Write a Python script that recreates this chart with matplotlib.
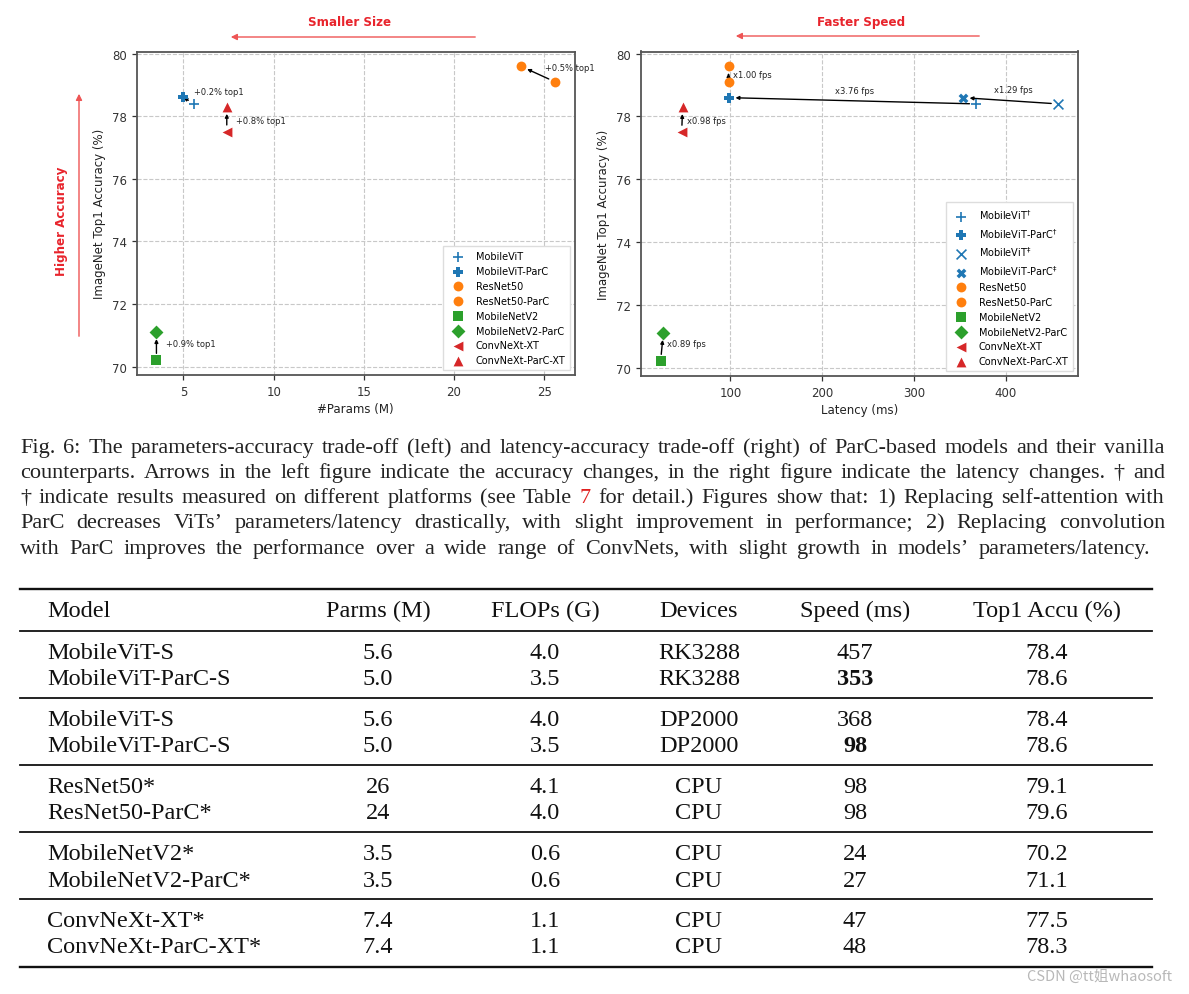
import matplotlib
matplotlib.use("Agg")
import matplotlib.pyplot as plt
from matplotlib.patches import FancyArrowPatch
from matplotlib.lines import Line2D

W, H = 1189, 995

# ---------------- data ----------------
left_names = ["MobileViT", "MobileViT-ParC", "ResNet50", "ResNet50-ParC",
              "MobileNetV2", "MobileNetV2-ParC", "ConvNeXt-XT", "ConvNeXt-ParC-XT"]
left_params = [5.6, 5.0, 25.6, 23.7, 3.5, 3.5, 7.4, 7.4]
left_acc = [78.4, 78.6, 79.1, 79.6, 70.2, 71.1, 77.5, 78.3]
left_markers = ["+", "P", "o", "o", "s", "D", "<", "^"]
left_colors = ["tab:blue", "tab:blue", "tab:orange", "tab:orange",
               "tab:green", "tab:green", "tab:red", "tab:red"]
left_pairs = [(0, 1), (2, 3), (4, 5), (6, 7)]
left_pair_labels = ["+0.2% top1", "+0.5% top1", "+0.9% top1", "+0.8% top1"]

right_names = ["MobileViT$^{\\dagger}$", "MobileViT-ParC$^{\\dagger}$",
               "MobileViT$^{\\ddagger}$", "MobileViT-ParC$^{\\ddagger}$",
               "ResNet50", "ResNet50-ParC", "MobileNetV2", "MobileNetV2-ParC",
               "ConvNeXt-XT", "ConvNeXt-ParC-XT"]
right_latency = [368, 98, 457, 353, 98, 98, 24, 27, 47, 48]
right_acc = [78.4, 78.6, 78.4, 78.6, 79.1, 79.6, 70.2, 71.1, 77.5, 78.3]
right_markers = ["+", "P", "x", "X", "o", "o", "s", "D", "<", "^"]
right_colors = ["tab:blue", "tab:blue", "tab:blue", "tab:blue", "tab:orange",
                "tab:orange", "tab:green", "tab:green", "tab:red", "tab:red"]
right_pairs = [(0, 1), (2, 3), (4, 5), (6, 7), (8, 9)]
right_pair_labels = ["x3.76 fps", "x1.29 fps", "x1.00 fps", "x0.89 fps", "x0.98 fps"]

caption_lines = [
    "Fig. 6: The parameters-accuracy trade-off (left) and latency-accuracy trade-off (right) of ParC-based models and their vanilla",
    "counterparts. Arrows in the left figure indicate the accuracy changes, in the right figure indicate the latency changes. \u2020 and",
    "\u2020 indicate results measured on different platforms (see Table 7 for detail.) Figures show that: 1) Replacing self-attention with",
    "ParC decreases ViTs\u2019 parameters/latency drastically, with slight improvement in performance; 2) Replacing convolution",
    "with ParC improves the performance over a wide range of ConvNets, with slight growth in models\u2019 parameters/latency.",
]

table_header = ["Model", "Parms (M)", "FLOPs (G)", "Devices", "Speed (ms)", "Top1 Accu (%)"]
tbl_models = ["MobileViT-S", "MobileViT-ParC-S", "MobileViT-S", "MobileViT-ParC-S",
              "ResNet50*", "ResNet50-ParC*", "MobileNetV2*", "MobileNetV2-ParC*",
              "ConvNeXt-XT*", "ConvNeXt-ParC-XT*"]
tbl_params = ["5.6", "5.0", "5.6", "5.0", "26", "24", "3.5", "3.5", "7.4", "7.4"]
tbl_flops = ["4.0", "3.5", "4.0", "3.5", "4.1", "4.0", "0.6", "0.6", "1.1", "1.1"]
tbl_devices = ["RK3288", "RK3288", "DP2000", "DP2000", "CPU", "CPU", "CPU", "CPU", "CPU", "CPU"]
tbl_speed = ["457", "353", "368", "98", "98", "98", "24", "27", "47", "48"]
tbl_top1 = ["78.4", "78.6", "78.4", "78.6", "79.1", "79.6", "70.2", "71.1", "77.5", "78.3"]
tbl_bold_speed = [False, True, False, True, False, False, False, False, False, False]

# ---------------- figure ----------------
fig = plt.figure(figsize=(W / 100, H / 100), dpi=100)
fig.patch.set_facecolor("white")


def fx(px):
    return px / W


def fy(py):
    return 1 - py / H


def style_axes(ax):
    ax.grid(True, linestyle="--", color="#c8c8c8", linewidth=0.8)
    ax.set_axisbelow(True)
    for s in ax.spines.values():
        s.set_linewidth(1.3)
        s.set_color("#555555")
    ax.tick_params(labelsize=8.5, colors="#333333", length=3.5, width=0.9)


def add_pairs(ax, xs, ys, pairs, labels, offsets, has):
    for (a, b), lab, (dx, dy), ha in zip(pairs, labels, offsets, has):
        ax.annotate("", xy=(xs[b], ys[b]), xytext=(xs[a], ys[a]),
                    arrowprops=dict(arrowstyle="-|>", color="black", lw=1.0,
                                    mutation_scale=5, shrinkA=5, shrinkB=5),
                    zorder=2)
        mx, my = (xs[a] + xs[b]) / 2, (ys[a] + ys[b]) / 2
        ax.annotate(lab, xy=(mx, my), xytext=(dx, dy), textcoords="offset pixels",
                    fontsize=6, color="#222222", ha=ha, va="center")


# left axes
axL = fig.add_axes([fx(136.5), fy(376), fx(575 - 136.5), (376 - 52.5) / H])
for x, y, m, c, n in zip(left_params, left_acc, left_markers, left_colors, left_names):
    axL.scatter([x], [y], marker=m, color=c, s=50, label=n, zorder=3,
                linewidths=1.2 if m in "+x" else 0)
style_axes(axL)
axL.set_xticks([5, 10, 15, 20, 25])
axL.set_yticks([70, 72, 74, 76, 78, 80])
axL.set_xlabel("#Params (M)", fontsize=8.5, color="#222222", labelpad=3)
axL.set_ylabel("ImageNet Top1 Accuracy (%)", fontsize=8.5, color="#222222")
add_pairs(axL, left_params, left_acc, left_pairs, left_pair_labels,
          [(5, 9), (7, 7), (10, 3), (9, -1.5)], ["left"] * 4)
axL.legend(loc="lower right", fontsize=7, frameon=True, borderpad=0.5,
           labelspacing=0.5, handletextpad=0.8, fancybox=False,
           edgecolor="#dddddd", framealpha=1, scatterpoints=1)

# right axes
axR = fig.add_axes([fx(640.7), fy(377), fx(1078 - 640.7), (377 - 52.5) / H])
for x, y, m, c, n in zip(right_latency, right_acc, right_markers, right_colors, right_names):
    axR.scatter([x], [y], marker=m, color=c, s=50, label=n, zorder=3,
                linewidths=1.2 if m in "+x" else 0)
style_axes(axR)
axR.set_xticks([100, 200, 300, 400])
axR.set_yticks([70, 72, 74, 76, 78, 80])
axR.set_xlabel("Latency (ms)", fontsize=8.5, color="#222222", labelpad=3)
axR.set_ylabel("ImageNet Top1 Accuracy (%)", fontsize=8.5, color="#222222")
add_pairs(axR, right_latency, right_acc, right_pairs, right_pair_labels,
          [(2.5, 10.7), (3, 11), (4.4, -0.8), (5.4, 3.3), (4.5, -0.8)],
          ["center", "center", "left", "left", "left"])
axR.legend(loc="lower right", fontsize=7, frameon=True, borderpad=0.5,
           labelspacing=0.5, handletextpad=0.8, fancybox=False,
           edgecolor="#dddddd", framealpha=1, scatterpoints=1)

# red direction arrows and texts
red = "#e8242c"
for (x0, y0, x1, y1) in [(478, 38, 228, 38), (982, 37, 733, 37), (79, 340, 79, 92)]:
    fig.add_artist(FancyArrowPatch((fx(x0), fy(y0)), (fx(x1), fy(y1)),
                                   transform=fig.transFigure, arrowstyle="-|>",
                                   mutation_scale=9, color="#ee5555", lw=1.0))
fig.text(fx(350), fy(22), "Smaller Size", color=red, fontsize=8.6,
         fontweight="bold", ha="center", va="center")
fig.text(fx(861), fy(23), "Faster Speed", color=red, fontsize=8.6,
         fontweight="bold", ha="center", va="center")
fig.text(fx(62), fy(221), "Higher Accuracy", color=red, fontsize=8.6,
         fontweight="bold", ha="center", va="center", rotation=90)

# ---------------- caption (justified) ----------------
renderer = fig.canvas.get_renderer()
cap_font = "Liberation Serif"
cap_size = 16
cap_y = [447, 472, 497, 522, 548]
cap_x1 = [1165, 1165, 1165, 1165, 1150]
for line, y, x1 in zip(caption_lines, cap_y, cap_x1):
    words = line.split(" ")
    arts = []
    for i, w in enumerate(words):
        col = "#222222"
        if w == "7" and words[i - 1] == "Table":
            col = "#e02020"
        arts.append(fig.text(0, fy(y + 6), w, fontsize=cap_size, family=cap_font,
                             color=col, ha="left", va="baseline"))
    widths = [a.get_window_extent(renderer).width for a in arts]
    gap = (x1 - 20 - sum(widths)) / (len(words) - 1)
    x = 20
    for a, wd in zip(arts, widths):
        a.set_x(fx(x))
        x += wd + gap

# ---------------- table ----------------
tbl_font = "Liberation Serif"
tbl_size = 17.5
col_x = [47, 378, 545, 699, 855, 1047]
col_ha = ["left", "center", "center", "center", "center", "center"]
header_y = 610
row_y = [652, 678, 719, 745, 786, 812, 853, 880, 920, 946]
rules = [(590, 1.7), (632, 1.3), (699, 1.3), (766, 1.3), (833, 1.3), (900, 1.3), (968, 1.7)]
for y, lw in rules:
    fig.add_artist(Line2D([fx(20), fx(1152)], [fy(y), fy(y)], transform=fig.transFigure,
                          color="#111111", lw=lw))
for h, x, ha in zip(table_header, col_x, col_ha):
    fig.text(fx(x), fy(header_y + 7), h, family=tbl_font, fontsize=tbl_size,
             ha=ha, va="baseline", color="#111111")
cols = [tbl_models, tbl_params, tbl_flops, tbl_devices, tbl_speed, tbl_top1]
for r, y in enumerate(row_y):
    for c, (col, x, ha) in enumerate(zip(cols, col_x, col_ha)):
        bold = (c == 4 and tbl_bold_speed[r])
        fig.text(fx(x), fy(y + 7), col[r], family=tbl_font, fontsize=tbl_size,
                 ha=ha, va="baseline", color="#111111",
                 fontweight="bold" if bold else "normal")

# watermark
fig.text(fx(1172), fy(977), "CSDN @tt\u59d0whaosoft", family=["Noto Sans CJK SC", "DejaVu Sans"],
         fontsize=10.5, color="#b8b8b8", ha="right", va="center")

fig.savefig("out.png", dpi=100, facecolor="white")
